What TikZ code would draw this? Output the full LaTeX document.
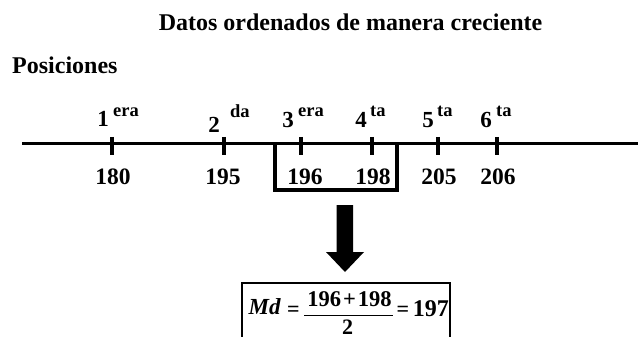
\documentclass[tikz,border=0pt]{standalone}
\usepackage{fontspec}
\setmainfont{Liberation Serif}
\begin{document}
\begin{tikzpicture}[x=1pt,y=-1pt,
  heading/.style={inner sep=0pt, font=\bfseries\fontsize{24}{28}\selectfont},
  posdigit/.style={inner sep=0pt, anchor=base, font=\bfseries\fontsize{23}{26}\selectfont},
  possup/.style={inner sep=0pt, anchor=base west, font=\bfseries\fontsize{18.5}{21}\selectfont},
  val/.style={inner sep=0pt, anchor=base, font=\bfseries\fontsize{23.5}{27}\selectfont},
  ftext/.style={inner sep=0pt, font=\bfseries\fontsize{22}{26}\selectfont},
  axisline/.style={line width=3.5pt},
  tickmark/.style={line width=4pt},
  bracketbox/.style={line width=4pt},
  formulabox/.style={line width=2pt},
  fracbar/.style={line width=1.6pt}
]
\useasboundingbox (0,0) rectangle (638,337);

% titles
\node[heading, anchor=base] (title) at (350.5,31) {Datos ordenados de manera creciente};
\node[heading, anchor=base west] (pos) at (12,74) {Posiciones};

% axis
\coordinate (axL) at (22,143.5);
\coordinate (axR) at (645,143.5);
\draw[axisline] (axL) -- (axR);
\foreach \x in {112,224,301,372,438,497}{
  \draw[tickmark] (\x,137) -- (\x,155);
}

% position labels
\node[posdigit] (p1) at (103,127) {1};
\node[possup] (s1) at (113,117) {era};
\node[posdigit] (p2) at (214,132) {2};
\node[possup] (s2) at (230,117.5) {da};
\node[posdigit] (p3) at (288,127.5) {3};
\node[possup] (s3) at (298,117) {era};
\node[posdigit] (p4) at (361,127.5) {4};
\node[possup] (s4) at (370,117) {ta};
\node[posdigit] (p5) at (428,127.5) {5};
\node[possup] (s5) at (437,117) {ta};
\node[posdigit] (p6) at (486,127.5) {6};
\node[possup] (s6) at (496,117) {ta};

% values
\node[val] (v1) at (113,184) {180};
\node[val] (v2) at (223,184) {195};
\node[val] (v3) at (305,184) {196};
\node[val] (v4) at (373,184) {198};
\node[val] (v5) at (439,184) {205};
\node[val] (v6) at (498,184) {206};

% bracket box
\draw[bracketbox] (275,143.5) -- (275,190) -- (397,190) -- (397,143.5);

% block arrow
\fill (336.5,205) -- (353,205) -- (353,252) -- (364,252) -- (345,272) -- (326,252) -- (336.5,252) -- cycle;

% formula
\draw[formulabox] (242,345) -- (242,283) -- (450,283) -- (450,345);
\node[ftext, anchor=base west, font=\bfseries\itshape\fontsize{23}{26}\selectfont] (md) at (248.5,314.5) {Md};
\node[ftext, anchor=base] (eq1) at (293.5,316) {=};
\node[ftext, anchor=base, font=\bfseries\fontsize{22.5}{26}\selectfont] (num) at (349.5,306) {196\hspace{2pt}+\hspace{2pt}198};
\coordinate (barL) at (304,315.5);
\coordinate (barR) at (393,315.5);
\draw[fracbar] (barL) -- (barR);
\node[ftext, anchor=base] (den) at (347.5,334.5) {2};
\node[ftext, anchor=base west] (eq2) at (396.5,316) {=};
\node[ftext, anchor=base east, font=\bfseries\fontsize{24}{28}\selectfont] (res) at (449,316) {197};
\end{tikzpicture}
\end{document}
